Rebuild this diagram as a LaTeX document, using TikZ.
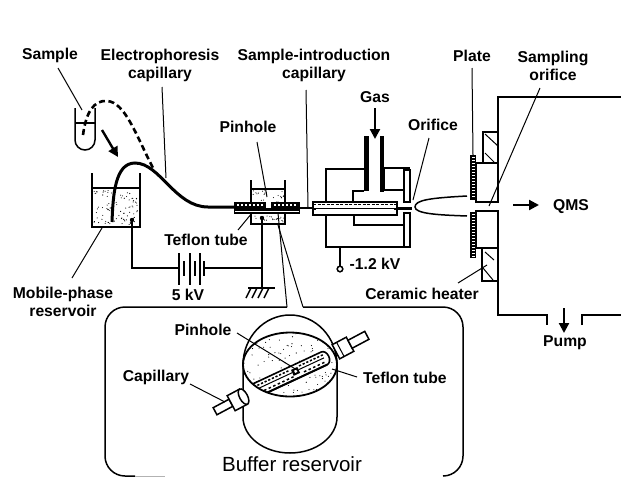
\documentclass[tikz,border=0pt]{standalone}
\usepackage{fontspec}
\newfontfamily\labfont{Liberation Sans Bold}
\newfontfamily\bigfont{Liberation Sans}
\usetikzlibrary{arrows.meta,calc}
\tikzset{
  lab/.style={font=\labfont\fontsize{15.7}{18}\selectfont,inner sep=1pt,align=center,text=black},
  biglab/.style={font=\bigfont\fontsize{20.5}{22}\selectfont,inner sep=1pt,text=black},
  leader/.style={line width=1pt},
  wall/.style={line width=1.5pt},
  thick wall/.style={line width=2.4pt},
  flow/.style={line width=2.2pt,-{Triangle[length=10pt,width=10pt]}},
}
\newcommand{\speck}[5]{% x0 y0 x1 y1 count
  \foreach \i in {1,...,#5}{
    \pgfmathsetmacro\sx{#1+rnd*(#3-#1)}
    \pgfmathsetmacro\sy{#2+rnd*(#4-#2)}
    \fill (\sx,\sy) circle (0.55);
  }}
\begin{document}
\begin{tikzpicture}[x=1pt,y=-1pt]
\useasboundingbox (0,0) rectangle (621,477);
\pgfmathsetseed{4711}
% labels
\node[lab] (lSample) at (50,55) {Sample};
\node[lab,text width=140pt] (lElec) at (160,65.5) {Electrophoresis\\[0pt]capillary};
\node[lab,text width=180pt] (lIntro) at (314,65.5) {Sample-introduction\\[0pt]capillary};
\node[lab] (lPin) at (248,127) {Pinhole};
\node[lab] (lGas) at (375,97) {Gas};
\node[lab] (lOrifice) at (433,125) {Orifice};
\node[lab] (lPlate) at (472,56) {Plate};
\node[lab,text width=90pt] (lSampOr) at (553,66) {Sampling\\[0pt]orifice};
\node[lab] (lQMS) at (571,207) {QMS};
\node[lab] (lTef) at (206,240) {Teflon tube};
\node[lab] (lKV) at (188,295) {5 kV};
\node[lab] (lHV) at (375,264) {-1.2 kV};
\node[lab] (lCer) at (422,294) {Ceramic heater};
\node[lab] (lPump) at (565,343) {Pump};
\node[lab,text width=110pt] (lMob) at (63,302) {Mobile-phase\\[0pt]reservoir};
\node[lab] (lPin2) at (203,330) {Pinhole};
\node[lab] (lCap) at (156,377) {Capillary};
\node[lab,anchor=west] (lTef2) at (362,378) {Teflon tube};
\node[biglab] (lBuf) at (292,464) {Buffer reservoir};
% sample vial
\draw[wall] (75,108) -- (75,140) arc[start angle=180,end angle=0,x radius=10,y radius=10] -- (95,108);
\draw[wall] (75,123) -- (95,123);
% dashed capillary
\draw[line width=2.6pt,dash pattern=on 6pt off 3.5pt] (83,135) .. controls (86,112) and (94,100) .. (107,101) .. controls (125,102) and (136,135) .. (153,168);
% sample arrow
\coordinate (aS) at (102,130); \coordinate (aE) at (118,157);
\draw[flow,line width=2.4pt] (aS) -- (aE);
% mobile reservoir
\speck{94}{190}{138}{225}{90}
\draw[wall] (92,173) -- (92,227) -- (140,227) -- (140,173);
\draw[wall] (92,188) -- (140,188);
\draw[line width=1.9pt] (92,227) -- (140,227);
% capillary
\draw[line width=3pt] (112,222) .. controls (113,195) and (115,163) .. (135,163) .. controls (160,163) and (175,207) .. (208,207) -- (236,207);
% circuit
\coordinate (jn) at (262,268);
\fill (132,220) circle (2.2);
\draw[wall] (132,220) -- (132,268) -- (179,268);
\draw[wall] (179,253) -- (179,285);
\draw[wall] (184,261) -- (184,276);
\draw[wall] (190,253) -- (190,285);
\draw[wall] (195,261) -- (195,276);
\draw[wall] (200,253) -- (200,285);
\draw[wall] (204,261) -- (204,276);
\draw[wall] (204,268) -- (jn);
\fill (262,218) circle (2.2);
\draw[wall] (262,218) -- (262,288);
\draw[wall] (248,288) -- (275,288);
\foreach \x in {251,257,263,269}{\draw[wall] (\x,288) -- (\x-5,298);}
% pinhole assembly
\speck{253}{190}{284}{202}{22}
\speck{253}{215}{284}{222}{22}
\draw[wall] (251,180) -- (251,224) -- (285,224) -- (285,180);
\draw[wall] (251,189) -- (285,189);
\fill (234,202) rectangle (266,214);
\fill (271,202) rectangle (300,214);
\fill (266,208) rectangle (271,214);
\fill[white] (235,210.5) rectangle (299,212);
\foreach \x in {237,241,...,262,274,278,...,297}{\fill[white] (\x,204) rectangle +(2,2);}
\draw[line width=2.4pt] (300,208) -- (315,208);
% leader lines top-left
\coordinate (sSample) at (58,68);
\coordinate (eSample) at (82,110);
\coordinate (sElec) at (162,87);
\coordinate (eElec) at (166,178);
\coordinate (sIntro) at (306,90);
\coordinate (eIntro) at (308,207);
\coordinate (sPin) at (257,142);
\coordinate (ePin) at (267,197);
\coordinate (eTef) at (238,230);
\coordinate (sTef) at (252,213);
\coordinate (sMob) at (72,278);
\coordinate (eMob) at (102,228);
\draw[leader] (sSample) -- (eSample);
\draw[leader] (sElec) -- (eElec);
\draw[leader] (sIntro) -- (eIntro);
\draw[leader] (sPin) -- (ePin);
\draw[leader] (sTef) -- (eTef);
\draw[leader] (sMob) -- (eMob);
% ion source
\draw[wall] (364,169) -- (326,169) -- (326,247) -- (410,247);
\draw[wall] (364,191) -- (353,191) -- (353,202);
\draw[line width=2pt] (354,215) -- (354,225) -- (404,225);
\fill (364,136) rectangle (368.5,191);
\fill (379.5,136) rectangle (384,192);
\draw[thick wall] (380,168) -- (410,168);
\draw[thick wall] (384,168) -- (384,190) -- (404,190);
\draw[wall] (404,170) rectangle (410,202);
\draw[wall] (404,213) rectangle (410,247);
% tube through source
\draw[wall,fill=white] (313,202) rectangle (397,215);
\draw[line width=1.6pt,dash pattern=on 3pt off 1.5pt] (313,204.5) -- (397,204.5);
\draw[line width=2.8pt] (313,209) -- (400,209);
\fill[white] (316,208.6) rectangle (394,209.4);
\draw[line width=2.4pt] (397,208.5) -- (412,208.5);
% plume
\coordinate (pU) at (467,196); \coordinate (pL) at (467,216); \coordinate (pT) at (415,207);
\draw[wall] (pU) .. controls (430,198) and (415,200) .. (pT) .. controls (415,214) and (440,215) .. (pL);
% plates
\fill (470,155) rectangle (476,200);
\fill (470,212) rectangle (476,258);
\foreach \y in {157,160,...,198}{\fill[white] (471.5,\y) rectangle +(3,1);}
\foreach \y in {214,217,...,256}{\fill[white] (471.5,\y) rectangle +(3,1);}
% heater + sampling blocks
\draw[wall] (483,132) rectangle (498,163);
\draw[leader] (485,134) -- (498,146);
\draw[leader] (485,153) -- (494,162);
\draw[wall] (476,163) rectangle (498,202);
\draw[wall] (476,211) rectangle (498,248);
\draw[wall] (482,248) rectangle (498,281);
\draw[leader] (485,252) -- (494,260);
\draw[leader] (483,268) -- (493,280);
% chamber
\draw[wall] (621,97) -- (498,97) -- (498,202);
\draw[wall] (498,211) -- (498,315) -- (547,315) -- (547,325);
\draw[wall] (582,325) -- (582,315) -- (621,315);
% arrows
\coordinate (gA) at (375,108); \coordinate (gB) at (375,139);
\draw[flow] (gA) -- (gB);
\coordinate (qA) at (513,205); \coordinate (qB) at (539,205);
\draw[flow] (qA) -- (qB);
\coordinate (pA) at (564,308); \coordinate (pB) at (564,333);
\draw[flow] (pA) -- (pB);
% -1.2 kV terminal
\coordinate (hvT) at (340,266);
\draw[wall] (340,247) -- (hvT);
\draw[wall] (340,269) circle (2.8);
% leaders right
\draw[leader] (429,138) -- (413,200);
\draw[leader] (472,68) -- (473,155);
\draw[leader] (540,88) -- (489,206);
\draw[leader] (458,283) -- (487,265);
% callout
\draw[wall,rounded corners=20pt] (287,307) -- (105,307) -- (105,476) -- (135,476);
\draw[line width=0.6pt,gray!60] (135,476) -- (165,476);
\draw[wall,rounded corners=20pt] (303,307) -- (463,307) -- (463,476) -- (443,476);
\draw[leader] (278,213) -- (287,307);
\draw[leader] (278,225) -- (303,307);
% buffer cylinder
\begin{scope}
\clip (290,364.5) ellipse [x radius=47,y radius=32];
\speck{243}{332}{337}{397}{130}
\end{scope}
\draw[wall] (243,417) -- (243,365) arc[start angle=180,end angle=0,x radius=47,y radius=-50] -- (337,417);
\draw[wall] (243,417) arc[start angle=180,end angle=0,x radius=47,y radius=36];
% right stub
\begin{scope}[shift={(343,348)},rotate=28]
\draw[line width=1.5pt,fill=white] (-8,-8) rectangle (8,8);
\draw[line width=1.5pt,fill=white] (8,-4.5) rectangle (27,4.5);
\draw[leader] (-3,-8) -- (-3,8);
\end{scope}
% tube in cylinder
\begin{scope}
\clip (290,364.5) ellipse [x radius=47,y radius=32];
\begin{scope}[shift={(297,371)},rotate=25]
\draw[line width=1.6pt,fill=white] (-50,-7) -- (30,-7) arc[start angle=-90,end angle=90,x radius=5,y radius=7] -- (-50,7) -- cycle;
\draw[line width=1.9pt] (-50,7) -- (30,7);
\foreach \x in {-42,-38,...,-8,4,8,...,30}{\fill (\x,-4.5) rectangle +(2.2,1.5);}
\foreach \x in {-38,-33,...,-8,6,11,...,28}{\fill (\x,3) rectangle +(2.5,1.5);}
\draw[line width=1pt] (-45,-0.5) -- (-5,-0.5);
\draw[line width=1pt] (2,-0.5) -- (30,-0.5);
\fill (-5,-3.5) rectangle (2,3);
\fill[white] (-2.5,-1.5) rectangle (0,1);
\end{scope}
\end{scope}
\draw[line width=1.8pt] (290,364.5) ellipse [x radius=47,y radius=32];
% left stub
\begin{scope}[shift={(238,399)},rotate=28]
\draw[line width=1.5pt,fill=white] (-26,-4) rectangle (-8,4);
\draw[line width=1.5pt,fill=white] (-8,-8) rectangle (6,9) ;
\draw[line width=1.5pt,fill=white] (6,0.5) ellipse [x radius=4,y radius=8.5];
\end{scope}
% leaders callout
\draw[leader] (237,333) -- (297,370);
\draw[leader] (190,384) -- (225,402);
\draw[leader] (357,377) -- (332,369);
\end{tikzpicture}
\end{document}
